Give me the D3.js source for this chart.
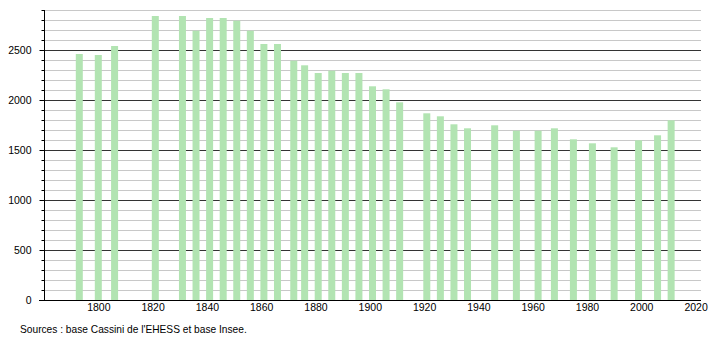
<!DOCTYPE html>
<html>
<head>
<meta charset="utf-8">
<script src="https://cdn.jsdelivr.net/npm/d3@7"></script>
<style>
  body { margin: 0; background: #fff; }
  text { font-family: "Liberation Sans", Arial, sans-serif; }
</style>
</head>
<body>
<script>
// census years and population
const years = [1793, 1800, 1806, 1821, 1831, 1836, 1841, 1846, 1851, 1856, 1861, 1866,
  1872, 1876, 1881, 1886, 1891, 1896, 1901, 1906, 1911, 1921, 1926, 1931, 1936,
  1946, 1954, 1962, 1968, 1975, 1982, 1990, 1999, 2006, 2011];
const population = [2460, 2450, 2540, 2840, 2840, 2693, 2820, 2820, 2793, 2693, 2560, 2560,
  2393, 2347, 2270, 2293, 2270, 2270, 2137, 2107, 1977, 1867, 1837, 1757, 1717,
  1747, 1693, 1693, 1717, 1607, 1567, 1527, 1597, 1647, 1797];
const xTicks = [1800, 1820, 1840, 1860, 1880, 1900, 1920, 1940, 1960, 1980, 2000, 2020];
const yTicks = [0, 500, 1000, 1500, 2000, 2500];
const source = "Sources : base Cassini de l'EHESS et base Insee.";

const width = 710, height = 340;
const plotLeft = 44, plotRight = 701, plotTop = 10, plotBottom = 300;

let svg = d3.select("body").append("svg")
  .attr("width", width)
  .attr("height", height);

let x = d3.scaleLinear().domain([1780, 2022]).range([plotLeft, plotRight]);
let y = d3.scaleLinear().domain([0, 2900]).range([plotBottom, plotTop]);

// grid lines every 100, darker every 500
let minor = d3.range(100, 2901, 100);
svg.append("g").selectAll("line")
  .data(minor)
  .enter().append("line")
  .attr("x1", plotLeft).attr("x2", plotRight)
  .attr("y1", d => y(d) + 0.5).attr("y2", d => y(d) + 0.5)
  .style("stroke", d => d % 500 == 0 ? "#333" : "#c8c8c8")
  .style("stroke-width", 1);

// bars
svg.append("g").selectAll("rect")
  .data(years)
  .enter().append("rect")
  .attr("x", d => x(d) - 3.5)
  .attr("width", 7)
  .attr("y", (d, i) => y(population[i]))
  .attr("height", (d, i) => plotBottom - y(population[i]))
  .style("fill", "#b2e4b2");

// y axis with minor ticks
svg.append("g")
  .attr("transform", "translate(" + (plotLeft + 0.5) + ",0)")
  .call(d3.axisLeft(y).tickValues(minor).tickSize(3).tickFormat(""))
  .call(g => g.select(".domain").remove())
  .selectAll("line").style("stroke", "#000");

svg.append("g")
  .attr("transform", "translate(" + (plotLeft + 0.5) + ",0)")
  .call(d3.axisLeft(y).tickValues(yTicks).tickSize(5).tickSizeOuter(0).tickPadding(8).tickFormat(d3.format("d")))
  .call(g => g.select(".domain").attr("d", "M0," + plotTop + "V" + (plotBottom + 0.5)).style("stroke", "#000"))
  .call(g => g.selectAll("text").style("font-size", "10.5px").style("font-family", "Liberation Sans, Arial, sans-serif").attr("fill", "#000"));

// x axis
let xg = svg.append("g")
  .attr("transform", "translate(0," + (plotBottom + 0.5) + ")")
  .call(d3.axisBottom(x).tickValues(xTicks).tickSize(0).tickPadding(3).tickFormat(d3.format("d")));
xg.select(".domain").attr("d", "M" + (plotLeft - 5) + ",0H" + plotRight).style("stroke", "#000");
xg.selectAll("text").style("font-size", "10.5px").style("font-family", "Liberation Sans, Arial, sans-serif").attr("fill", "#000");

svg.append("text")
  .attr("x", 20).attr("y", 333)
  .style("font-size", "10.2px")
  .text(source);
</script>
</body>
</html>
